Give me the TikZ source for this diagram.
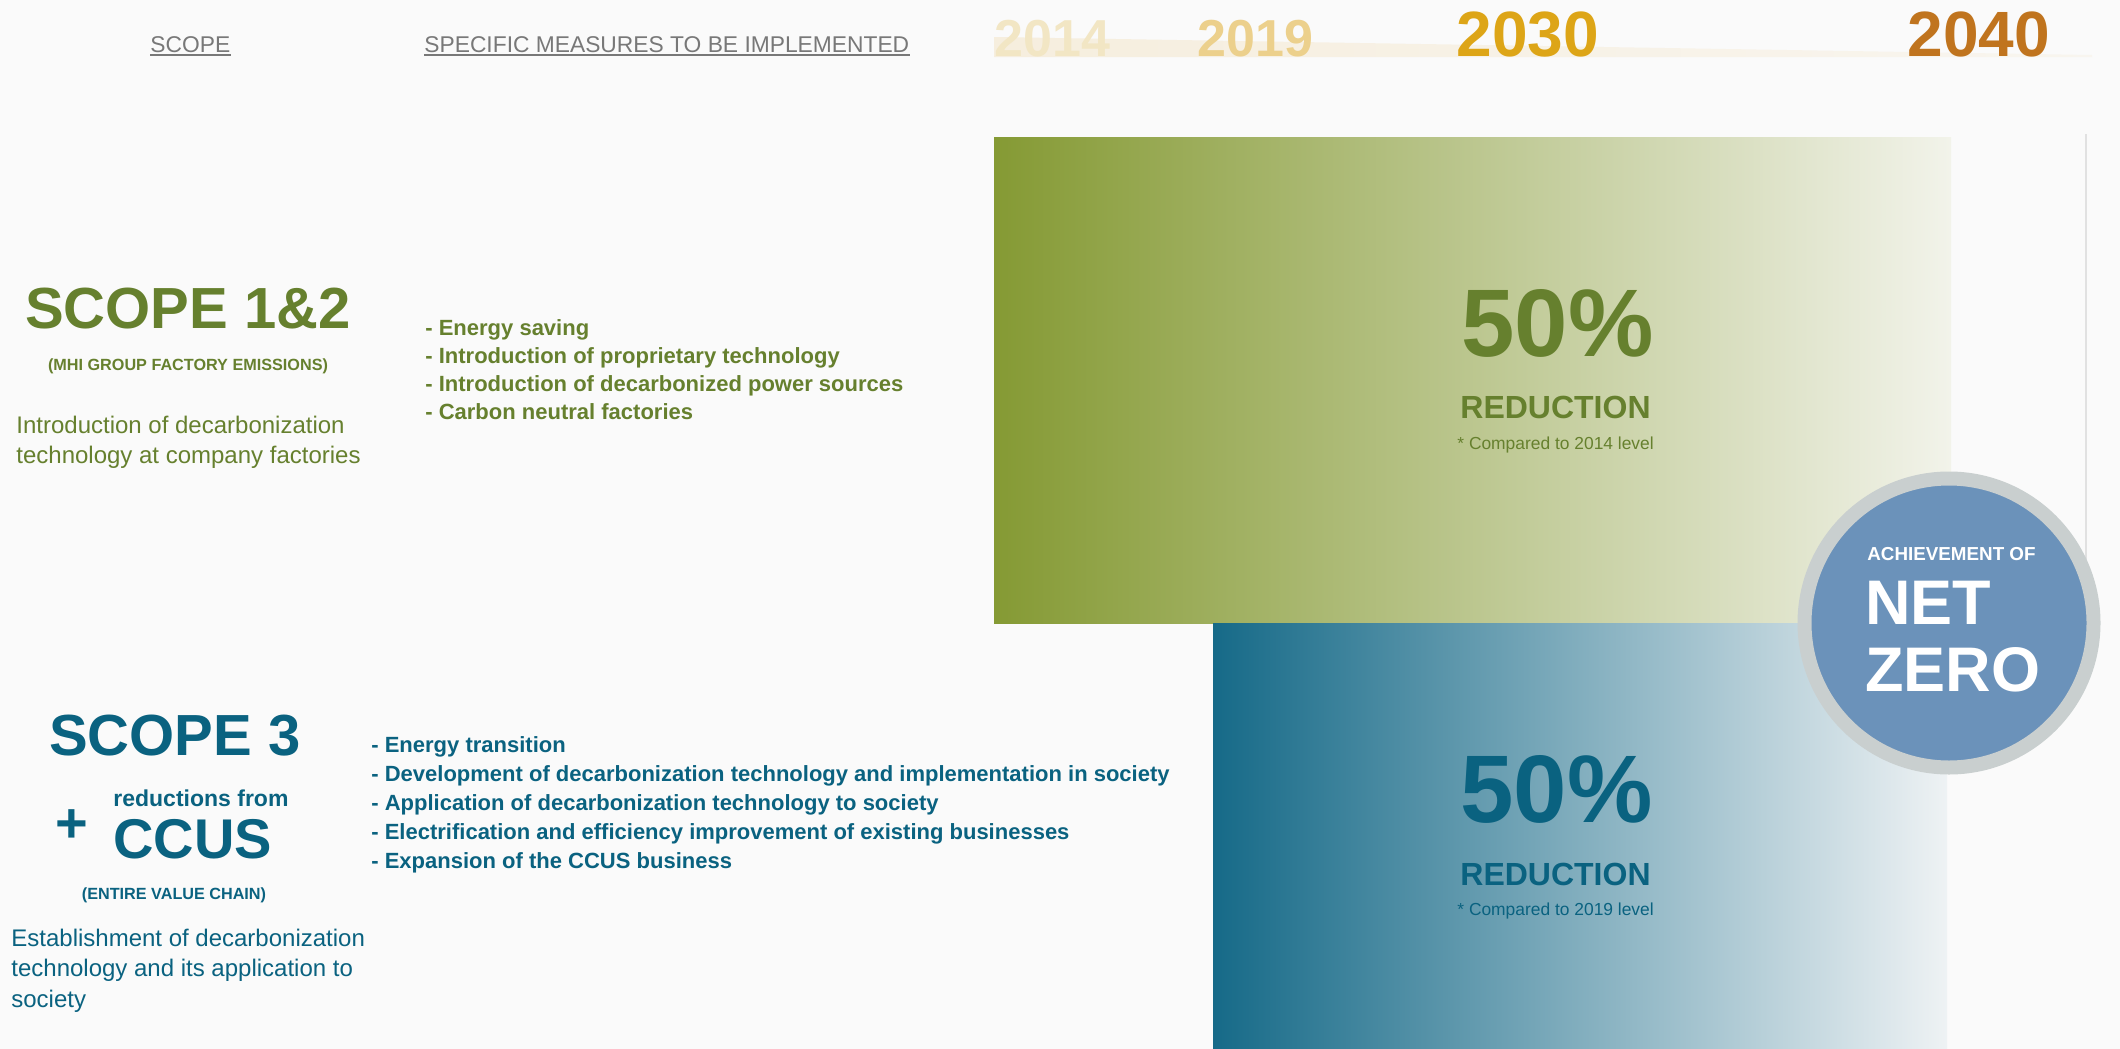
\documentclass[tikz,border=0pt]{standalone}
\usepackage{fontspec}
\setmainfont{Liberation Sans}
\usetikzlibrary{positioning}

\definecolor{bgcol}{RGB}{250,250,250}
\definecolor{hdgrey}{RGB}{120,120,120}
\definecolor{grtext}{RGB}{102,128,46}
\definecolor{bltext}{RGB}{10,98,128}
\definecolor{yrA}{RGB}{242,230,196}
\definecolor{yrB}{RGB}{236,208,140}
\definecolor{yrC}{RGB}{221,165,23}
\definecolor{yrD}{RGB}{192,116,30}
\definecolor{bandcol}{RGB}{246,238,222}
\definecolor{grboxL}{RGB}{133,154,52}
\definecolor{grboxR}{RGB}{242,243,234}
\definecolor{blboxL}{RGB}{22,106,136}
\definecolor{blboxR}{RGB}{238,242,244}
\definecolor{nzring}{RGB}{201,207,207}
\definecolor{nzfill}{RGB}{107,146,186}
\definecolor{sepline}{RGB}{225,225,225}

\begin{document}
\begin{tikzpicture}[x=0.5pt,y=-0.5pt,
  every node/.style={inner sep=0pt,anchor=base west},
  hdtext/.style={text=hdgrey,font=\fontsize{11.4pt}{13pt}\selectfont},
  yearsmall/.style={font=\fontsize{26pt}{28pt}\selectfont\bfseries},
  yearbig/.style={font=\fontsize{32pt}{34pt}\selectfont\bfseries},
  scopetitle/.style={anchor=base,font=\fontsize{29pt}{31pt}\selectfont\bfseries},
  scopesub/.style={anchor=base,font=\fontsize{8.1pt}{10pt}\selectfont\bfseries},
  scopenote/.style={font=\fontsize{12pt}{15pt}\selectfont},
  measure/.style={font=\fontsize{11pt}{14pt}\selectfont\bfseries},
  pct/.style={font=\fontsize{48pt}{50pt}\selectfont\bfseries},
  reduct/.style={font=\fontsize{16pt}{18pt}\selectfont\bfseries},
  compared/.style={font=\fontsize{8.7pt}{10pt}\selectfont}
]
\useasboundingbox (0,0) rectangle (2120,1049);
\fill[bgcol] (0,0) rectangle (2120,1049);

%header
\node[hdtext] (hdscope) at (150,52) {SCOPE};
\node[hdtext] (hdmeasures) at (424,52) {SPECIFIC MEASURES TO BE IMPLEMENTED};
\draw[hdgrey,line width=1pt] ([yshift=-1.5pt]hdscope.base west) -- ([yshift=-1.5pt]hdscope.base east);
\draw[hdgrey,line width=1pt] ([yshift=-1.5pt]hdmeasures.base west) -- ([yshift=-1.5pt]hdmeasures.base east);

%years
\shade[left color=bandcol,right color=bgcol!60!bandcol] (994,37) -- (2092,55) -- (2092,57) -- (994,57) -- cycle;
\node[yearsmall,text=yrA] (yr2014) at (994,56) {2014};
\node[yearsmall,text=yrB] (yr2019) at (1197,56) {2019};
\node[yearbig,text=yrC] (yr2030) at (1456,56) {2030};
\node[yearbig,text=yrD] (yr2040) at (1907,56) {2040};

%reduction boxes
\shade[left color=grboxL,right color=grboxR] (994,137) rectangle (1951,623);
\shade[left color=blboxL,right color=blboxR] (1213,623) rectangle (1947,1049);
\draw[sepline,line width=0.6pt] (2086,134) -- (2086,623);

%scope 1&2
\node[scopetitle,text=grtext] (sc12) at (188,328) {SCOPE 1\&2};
\node[scopesub,text=grtext] (sc12sub) at (188,370) {(MHI GROUP FACTORY EMISSIONS)};
\foreach \ln [count=\i from 0] in {Introduction of decarbonization,technology at company factories}
  \node[scopenote,text=grtext] (sc12note\i) at (16,{433+30*\i}) {\ln};
\foreach \ln [count=\i from 0] in {Energy saving,Introduction of proprietary technology,Introduction of decarbonized power sources,Carbon neutral factories}
  \node[measure,text=grtext] (grmeas\i) at (425,{335+28.3*\i}) {- \ln};

%scope 3
\node[scopetitle,text=bltext] (sc3) at (175,755) {SCOPE 3};
\node[font=\fontsize{11.5pt}{13pt}\selectfont\bfseries,text=bltext] (ccusfrom) at (113,806) {reductions from};
\node[font=\fontsize{28pt}{30pt}\selectfont\bfseries,text=bltext] (ccus) at (113,858) {CCUS};
\node[anchor=center,font=\fontsize{28pt}{30pt}\selectfont\bfseries,text=bltext] (ccusplus) at (72,826) {+};
\node[scopesub,text=bltext] (sc3sub) at (174,899) {(ENTIRE VALUE CHAIN)};
\foreach \ln [count=\i from 0] in {Establishment of decarbonization,technology and its application to,society}
  \node[scopenote,text=bltext] (sc3note\i) at (11,{946+30.5*\i}) {\ln};
\foreach \ln [count=\i from 0] in {Energy transition,Development of decarbonization technology and implementation in society,Application of decarbonization technology to society,Electrification and efficiency improvement of existing businesses,Expansion of the CCUS business}
  \node[measure,text=bltext] (blmeas\i) at (371,{752+29.2*\i}) {- \ln};

%targets
\node[pct,text=grtext] (grpct) at (1461,356) {50\%};
\node[reduct,text=grtext] (grred) at (1460,418) {REDUCTION};
\node[compared,text=grtext] (grcmp) at (1457,449) {* Compared to 2014 level};
\node[pct,text=bltext] (blpct) at (1460,822) {50\%};
\node[reduct,text=bltext] (blred) at (1460,885) {REDUCTION};
\node[compared,text=bltext] (blcmp) at (1457,915) {* Compared to 2019 level};

%net zero
\node[circle,anchor=center,fill=nzfill,draw=nzring,line width=7pt,minimum size=144.5pt] (netzero) at (1949,623) {};
\node[font=\fontsize{9.4pt}{11pt}\selectfont\bfseries,text=white] (nzach) at (1867,560) {ACHIEVEMENT OF};
\node[font=\fontsize{31.5pt}{33pt}\selectfont\bfseries,text=white] (nznet) at (1865,624) {NET};
\node[font=\fontsize{31.5pt}{33pt}\selectfont\bfseries,text=white] (nzzero) at (1865,691) {ZERO};
\end{tikzpicture}
\end{document}
